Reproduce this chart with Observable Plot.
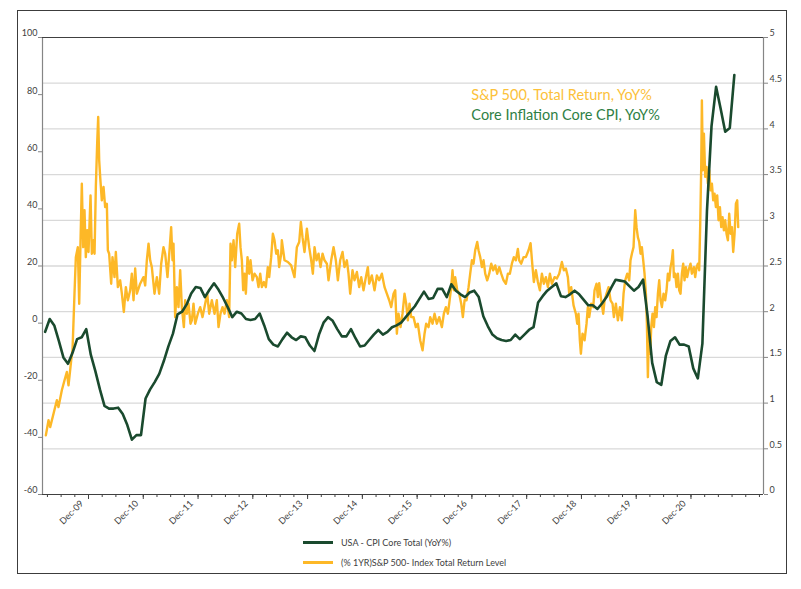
<!DOCTYPE html>
<html><head><meta charset="utf-8">
<script src="https://cdn.jsdelivr.net/npm/d3@7"></script>
<script src="https://cdn.jsdelivr.net/npm/@observablehq/plot@0.6"></script>
<style>
body{margin:0;background:#fff;}
#wrap{position:relative;width:801px;height:589px;overflow:hidden;font-family:Lato,sans-serif;background:#fff;}
#chart{position:absolute;left:0;top:0;}
#chart svg{overflow:visible;}
#border{position:absolute;left:17px;top:10px;width:770px;height:564px;border:1px solid #3c3c3c;box-sizing:border-box;pointer-events:none;}
#legend{position:absolute;left:303px;top:532px;font-size:9px;color:#404040;}
.item{display:flex;align-items:center;height:20px;}
.sw{width:30px;height:0;border-top:3px solid;margin-right:8px;}
</style></head>
<body>
<div id="wrap">
  <div id="chart"></div>
  <div id="border"></div>
  <div id="legend"></div>
</div>
<script>
// ---- data ----
// USA core CPI YoY %, monthly from March 2009 (right axis, 0..5)
const cpiStartYear = 2009, cpiStartMonth = 3;
const cpiValues = [
  1.78, 1.92, 1.85, 1.68, 1.50, 1.43, 1.55, 1.70, 1.72, 1.81,
  1.53, 1.35, 1.15, 0.97, 0.94, 0.94, 0.95, 0.88, 0.76, 0.60, 0.65, 0.65,
  1.05, 1.15, 1.23, 1.32, 1.46, 1.62, 1.76, 1.97, 2.00, 2.08, 2.20, 2.27,
  2.26, 2.16, 2.24, 2.31, 2.24, 2.15, 2.05, 1.94, 2.00, 1.98, 1.92, 1.91,
  1.92, 1.98, 1.85, 1.70, 1.64, 1.62, 1.70, 1.77, 1.72, 1.69, 1.73, 1.72,
  1.63, 1.57, 1.75, 1.88, 1.94, 1.90, 1.81, 1.73, 1.73, 1.81, 1.71, 1.62,
  1.63, 1.69, 1.75, 1.80, 1.75, 1.78, 1.83, 1.85, 1.88, 1.94, 2.00, 2.06,
  2.14, 2.22, 2.14, 2.15, 2.25, 2.25, 2.16, 2.30, 2.23, 2.19, 2.16, 2.21,
  2.23, 2.16, 1.95, 1.84, 1.75, 1.71, 1.69, 1.68, 1.69, 1.75, 1.70, 1.75,
  1.80, 1.83, 2.10, 2.17, 2.23, 2.27, 2.31, 2.17, 2.16, 2.19, 2.23, 2.19,
  2.13, 2.07, 2.07, 2.03, 2.09, 2.16, 2.26, 2.35, 2.34, 2.33, 2.28, 2.23,
  2.27, 2.35, 1.95, 1.44, 1.23, 1.20, 1.52, 1.68, 1.72, 1.64, 1.64, 1.62,
  1.38, 1.27, 1.65, 3.10, 4.03, 4.46, 4.22, 3.97, 4.01, 4.59
];
// S&P 500 total return YoY % (left axis) as [decimal year, value]
const spxReturn = [
  [2009.221,-39.3],[2009.270,-34],[2009.300,-36.4],[2009.361,-31.7],[2009.422,-27],[2009.452,-29.4],
  [2009.513,-23.5],[2009.562,-20],[2009.604,-17.1],[2009.635,-21.8],[2009.684,-13],[2009.708,-9.5],
  [2009.744,10.3],[2009.769,23.1],[2009.805,26.6],[2009.830,6.8],[2009.854,28.4],[2009.878,48.8],
  [2009.903,26.6],[2009.927,39.5],[2009.951,23.1],[2009.976,32.5],[2010.000,24.9],[2010.037,44.7],
  [2010.061,24.3],[2010.091,29],[2010.110,24.3],[2010.134,47.7],[2010.158,62.8],[2010.177,72.2],
  [2010.195,57],[2010.213,51.2],[2010.243,43],[2010.274,47.7],[2010.304,40.6],[2010.335,41.8],
  [2010.353,25.5],[2010.377,24.3],[2010.414,13.8],[2010.438,23.1],[2010.475,16.1],[2010.499,24.9],
  [2010.536,12.6],[2010.578,15],[2010.609,10.3],[2010.645,3.9],[2010.682,12.6],[2010.718,8],
  [2010.761,11.5],[2010.791,17.3],[2010.822,8],[2010.852,19.1],[2010.883,10.3],[2010.943,13.8],
  [2011.004,16.1],[2011.035,13.2],[2011.065,22],[2011.096,27.8],[2011.126,22],[2011.156,19.6],
  [2011.205,10.3],[2011.248,16.1],[2011.290,10.3],[2011.327,20.8],[2011.369,26.6],[2011.400,24.3],
  [2011.442,16.1],[2011.479,25.5],[2011.509,33.6],[2011.534,22],[2011.552,27.8],[2011.582,2.1],
  [2011.613,12.6],[2011.643,5.6],[2011.674,18.5],[2011.704,5.6],[2011.741,-1.4],[2011.765,8],
  [2011.795,3.3],[2011.826,6.8],[2011.862,-0.2],[2011.887,1],[2011.917,6.8],[2011.948,-0.2],
  [2011.996,3.3],[2012.039,5.6],[2012.082,2.1],[2012.130,6.8],[2012.167,10.3],[2012.203,3.3],
  [2012.252,8],[2012.301,3.3],[2012.343,8],[2012.374,-1.4],[2012.410,3.3],[2012.447,5.6],
  [2012.483,3.3],[2012.526,8],[2012.568,2.1],[2012.593,27.8],[2012.617,22],[2012.648,29],
  [2012.678,19.6],[2012.715,31.3],[2012.751,34.8],[2012.775,26.6],[2012.800,22],[2012.824,11.5],
  [2012.848,17.3],[2012.873,10.3],[2012.903,23.1],[2012.934,17.3],[2012.958,22],[2012.995,15],
  [2013.031,17.3],[2013.074,16.1],[2013.104,12.6],[2013.135,17.3],[2013.165,12.6],[2013.202,14.4],
  [2013.238,12.6],[2013.274,19.6],[2013.299,16.1],[2013.335,23.1],[2013.366,31.3],[2013.396,29],
  [2013.427,24.3],[2013.457,25.5],[2013.481,19.6],[2013.518,24.3],[2013.530,29],[2013.579,22],
  [2013.640,21.4],[2013.700,20.2],[2013.761,16.1],[2013.804,26.6],[2013.847,28.4],[2013.877,35.4],
  [2013.907,30.1],[2013.944,24.9],[2013.987,33.1],[2014.029,26.6],[2014.066,22],[2014.096,17.3],
  [2014.127,26.6],[2014.163,22],[2014.200,24.3],[2014.236,19.6],[2014.273,24.3],[2014.309,22],
  [2014.352,20.8],[2014.382,15],[2014.431,22],[2014.474,26.6],[2014.516,22],[2014.553,15],
  [2014.595,22],[2014.638,24.9],[2014.674,19.6],[2014.717,22],[2014.747,17.3],[2014.778,10.3],
  [2014.820,18.5],[2014.857,15],[2014.900,17.9],[2014.942,12.6],[2014.979,16.1],[2015.021,11.5],
  [2015.064,16.1],[2015.100,19.6],[2015.125,13.8],[2015.173,16.7],[2015.222,11.5],[2015.265,16.7],
  [2015.307,15],[2015.356,17.3],[2015.405,12.6],[2015.447,10.3],[2015.490,8],[2015.527,5.6],
  [2015.569,10.3],[2015.600,11.5],[2015.630,-3.7],[2015.660,3.3],[2015.697,-1.4],[2015.733,3.3],
  [2015.770,10.3],[2015.800,6.8],[2015.831,1],[2015.861,6.8],[2015.892,2.1],[2015.934,2.1],
  [2015.977,-1.4],[2016.013,-0.2],[2016.056,-6],[2016.099,-9.5],[2016.135,-3.7],[2016.165,-0.2],
  [2016.208,-1.4],[2016.239,2.1],[2016.281,-0.2],[2016.318,3.3],[2016.360,-0.2],[2016.403,2.1],
  [2016.452,-1.4],[2016.488,3.3],[2016.525,5.6],[2016.561,3.3],[2016.586,6.8],[2016.622,12.6],
  [2016.646,18.5],[2016.671,11.5],[2016.695,16.1],[2016.732,11.5],[2016.768,10.3],[2016.805,6.8],
  [2016.835,2.1],[2016.866,8],[2016.902,8],[2016.939,12.6],[2016.969,17.3],[2017.000,22],
  [2017.030,20.8],[2017.060,25.5],[2017.097,28.4],[2017.121,25.5],[2017.152,23.1],[2017.182,19.6],
  [2017.213,22],[2017.243,17.3],[2017.279,15],[2017.316,17.3],[2017.353,20.8],[2017.389,18.5],
  [2017.426,20.2],[2017.462,17.3],[2017.499,19.6],[2017.535,17.3],[2017.578,15],[2017.620,13.8],
  [2017.657,17.3],[2017.693,17.3],[2017.730,20.8],[2017.766,23.1],[2017.803,22],[2017.839,26],
  [2017.864,22],[2017.900,20.8],[2017.943,23.1],[2017.985,23.1],[2018.034,25.5],[2018.071,28],
  [2018.107,19.6],[2018.131,14.4],[2018.168,18.5],[2018.205,14.4],[2018.241,11.5],[2018.278,17.3],
  [2018.314,13.8],[2018.351,16.1],[2018.387,12.6],[2018.424,17.3],[2018.460,13.8],[2018.509,16.1],
  [2018.551,15.6],[2018.594,17.3],[2018.643,21.4],[2018.679,18.5],[2018.716,19.1],[2018.752,16.1],
  [2018.777,10.3],[2018.813,12.6],[2018.856,6.2],[2018.898,3.3],[2018.923,-0.2],[2018.947,3.3],
  [2018.971,-6],[2018.990,-10.7],[2019.020,-3.7],[2019.057,-6],[2019.093,-0.2],[2019.117,5.6],
  [2019.142,2.1],[2019.178,6.8],[2019.215,5.6],[2019.239,11.5],[2019.276,13.8],[2019.300,9.1],
  [2019.324,14],[2019.361,8],[2019.398,3.3],[2019.422,8],[2019.458,10.3],[2019.495,12.6],
  [2019.531,8],[2019.568,6.8],[2019.592,2.1],[2019.629,6.8],[2019.665,1],[2019.702,5.6],
  [2019.738,1],[2019.769,10.3],[2019.799,15],[2019.836,17.3],[2019.872,15],[2019.896,22],
  [2019.921,24.3],[2019.951,26.6],[2019.982,39.5],[2020.006,33.6],[2020.030,30.1],[2020.055,28.4],
  [2020.079,24.3],[2020.103,26.6],[2020.128,22],[2020.152,17.3],[2020.177,10.3],[2020.195,-0.2],
  [2020.213,-18.9],[2020.231,-3.7],[2020.256,-10.7],[2020.274,-1.4],[2020.298,3.3],[2020.323,-1.4],
  [2020.347,5.6],[2020.371,2.1],[2020.396,10.3],[2020.420,15],[2020.444,8],[2020.469,5.6],
  [2020.499,10.3],[2020.529,8],[2020.554,11.5],[2020.578,17.3],[2020.603,15],[2020.627,19.6],
  [2020.651,22],[2020.669,25.5],[2020.688,16.1],[2020.712,17.3],[2020.736,12.6],[2020.761,17.3],
  [2020.785,11.5],[2020.809,10.3],[2020.834,17.3],[2020.858,20.8],[2020.882,15],[2020.907,19.6],
  [2020.931,16.1],[2020.956,18.5],[2020.992,20.8],[2021.016,17.3],[2021.053,19.6],[2021.077,16.1],
  [2021.102,19.6],[2021.126,20.8],[2021.150,18.5],[2021.169,34.8],[2021.187,54.7],[2021.199,78],
  [2021.217,53.5],[2021.236,66.3],[2021.260,51.2],[2021.284,54.7],[2021.309,48.8],[2021.333,53.5],
  [2021.357,46.5],[2021.382,48.8],[2021.406,43],[2021.430,45.3],[2021.455,40.6],[2021.479,44.7],
  [2021.503,36],[2021.528,40.6],[2021.552,33.6],[2021.576,37.1],[2021.601,32.5],[2021.625,36],
  [2021.649,31.3],[2021.674,29],[2021.698,38.3],[2021.723,31.3],[2021.747,33.6],[2021.771,24.9],
  [2021.796,31.3],[2021.820,41.8],[2021.844,43],[2021.862,33.6]
];
const leftTicks = [-60, -40, -20, 0, 20, 40, 60, 80, 100];
const rightTicks = [0, 0.5, 1, 1.5, 2, 2.5, 3, 3.5, 4, 4.5, 5];
const yearTicks = [2010, 2011, 2012, 2013, 2014, 2015, 2016, 2017, 2018, 2019, 2020, 2021];
const yearLabels = ["Dec-09","Dec-10","Dec-11","Dec-12","Dec-13","Dec-14","Dec-15","Dec-16","Dec-17","Dec-18","Dec-19","Dec-20"];
const xDomain = [2009.16, 2022.324];
const annoLabels = ["S&P 500, Total Return, YoY%", "Core Inflation Core CPI, YoY%"];
const annoColors = ["#fcc13a", "#2f7f45"];
const legendLabels = ["USA - CPI Core Total (YoY%)", "(% 1YR)S&P 500- Index Total Return Level"];
const green = "#1a4a2e", yellow = "#fdb827";

// ---- derived ----
const toLeft = r => -60 + r * 32;           // right axis value -> left axis units
const cpi = cpiValues.map((v, i) => ({t: cpiStartYear + (cpiStartMonth - 1 + i + 0.5) / 12, v: toLeft(v)}));
const spx = spxReturn.map(([t, v]) => ({t, v}));
const quarterTicks = d3.range(2009.25, 2022.3, 0.25);
const anno = [
  {t: 2016.99, v: 79.6, label: annoLabels[0], color: annoColors[0]},
  {t: 2016.99, v: 72.6, label: annoLabels[1], color: annoColors[1]}
];

const chart = Plot.plot({
  width: 801, height: 522,
  marginLeft: 42, marginRight: 38, marginTop: 37, marginBottom: 28,
  x: {type: "linear", domain: xDomain, label: null},
  y: {domain: [-60, 100], label: null},
  style: {fontFamily: "Lato, sans-serif", fontSize: "9px", color: "#404040", background: "transparent", overflow: "visible"},
  marks: [
    Plot.gridY(rightTicks.slice(1, -1).map(toLeft), {stroke: "#d9d9d9", strokeOpacity: 1, strokeWidth: 1.3}),
    Plot.line(spx, {x: "t", y: "v", stroke: yellow, strokeWidth: 2.4}),
    Plot.line(cpi, {x: "t", y: "v", stroke: green, strokeWidth: 2.6}),
    Plot.ruleX([xDomain[0], xDomain[1]], {stroke: "#858585", strokeWidth: 1.2}),
    Plot.ruleY([100, -60], {stroke: "#404040", strokeWidth: 1.2}),
    // left axis
    Plot.axisY(leftTicks, {anchor: "left", tickSize: 4, fill: null, stroke: "#858585", label: null}),
    Plot.axisY(leftTicks, {anchor: "left", tickSize: 0, tickPadding: 5, dy: -4, label: null, tickFormat: d => String(d)}),
    // right axis
    Plot.axisY(rightTicks.map(toLeft), {anchor: "right", tickSize: 4, fill: null, stroke: "#858585", label: null}),
    Plot.axisY(rightTicks.map(toLeft), {anchor: "right", tickSize: 0, tickPadding: 6, dy: -4, label: null, tickFormat: d => String(+((d + 60) / 32).toFixed(1))}),
    // x axis ticks
    Plot.axisX(quarterTicks, {tickSize: 3, fill: null, stroke: "#404040", label: null}),
    Plot.axisX(yearTicks, {tickSize: 5, fill: null, stroke: "#404040", label: null}),
    // annotation
    Plot.text(anno, {x: "t", y: "v", text: "label", fill: "color", textAnchor: "start", fontSize: 14.5})
  ]
});

// rotated x-axis labels, placed with the chart's own x scale
const xs = chart.scale("x"), ys = chart.scale("y");
const yBottom = ys.apply(-60);
const svg = d3.select(chart.tagName.toLowerCase() === "svg" ? chart : chart.querySelector("svg"));
const lab = svg.append("g").attr("fill", "#404040").attr("font-size", 9).attr("font-family", "Lato, sans-serif");
yearTicks.forEach((t, i) => {
  const px = xs.apply(t) - 6, py = yBottom + 8;
  lab.append("g").attr("transform", `translate(${px},${py}) rotate(-45)`)
    .append("text").attr("text-anchor", "end").attr("dy", "0.32em").text(yearLabels[i]);
});
document.getElementById("chart").appendChild(chart);

const legend = document.getElementById("legend");
[[green, legendLabels[0]], [yellow, legendLabels[1]]].forEach(([c, l]) => {
  const it = document.createElement("div"); it.className = "item";
  const sw = document.createElement("div"); sw.className = "sw"; sw.style.borderTopColor = c;
  const tx = document.createElement("span"); tx.textContent = l;
  it.appendChild(sw); it.appendChild(tx); legend.appendChild(it);
});
</script>
</body></html>
